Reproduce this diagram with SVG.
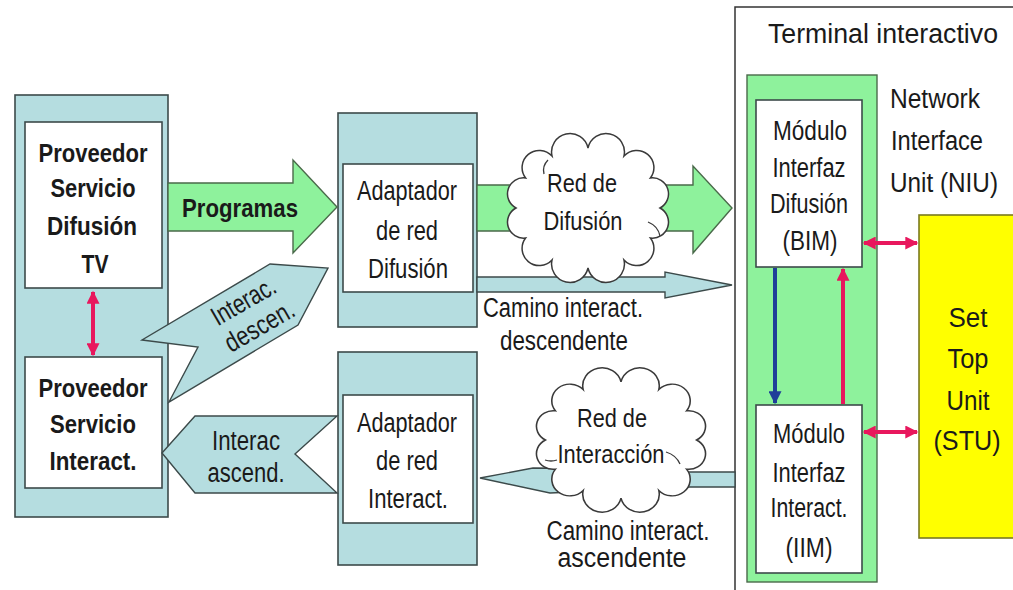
<svg xmlns="http://www.w3.org/2000/svg" xmlns:xlink="http://www.w3.org/1999/xlink" width="1013" height="590" viewBox="0 0 1013 590">
<style>
text{font-family:"Liberation Sans",Arial,sans-serif;fill:#1a1a1a;text-anchor:middle}
.b{font-weight:bold;font-size:26px}
.r{font-size:27px}
.s{font-size:25px}
.panel{fill:#b5dde0;stroke:#3c4a4a;stroke-width:1.6}
.box{fill:#ffffff;stroke:#3c4a4a;stroke-width:1.6}
.green{fill:#8ef29c;stroke:#4a6a4a;stroke-width:1.4}
.teal{fill:#b5dde0;stroke:#3c4a4a;stroke-width:1.4}
.cloud{fill:#ffffff;stroke:#3a3a3a;stroke-width:1.5}
.pk{stroke:#e8175d;stroke-width:4;fill:none}
.bl{stroke:#1f3f99;stroke-width:4;fill:none}
</style>
<defs>
<marker id="mpk" viewBox="0 0 10 10" refX="9" refY="5" markerWidth="14" markerHeight="13" markerUnits="userSpaceOnUse" orient="auto-start-reverse"><path d="M0,0 L10,5 L0,10 z" fill="#e8175d"/></marker>
<marker id="mbl" viewBox="0 0 10 10" refX="9" refY="5" markerWidth="14" markerHeight="13" markerUnits="userSpaceOnUse" orient="auto-start-reverse"><path d="M0,0 L10,5 L0,10 z" fill="#1f3f99"/></marker>
<path id="cloudshape" d="M72,0 A16,16 0 0 1 62.4,30 A17.2,17.2 0 0 1 36,52 A18.4,18.4 0 0 1 0,60 A18.4,18.4 0 0 1 -36,52 A17.2,17.2 0 0 1 -62.4,30 A16,16 0 0 1 -72,0 A16,16 0 0 1 -62.4,-30 A17.2,17.2 0 0 1 -36,-52 A18.4,18.4 0 0 1 0,-60 A18.4,18.4 0 0 1 36,-52 A17.2,17.2 0 0 1 62.4,-30 A16,16 0 0 1 72,0 Z"/>
</defs>
<rect width="1013" height="590" fill="#ffffff"/>

<!-- Terminal frame -->
<g id="terminal">
<rect x="735" y="7" width="300" height="600" fill="#ffffff" stroke="#333333" stroke-width="1.5"/>
<text class="r" font-size="26" x="883" y="43" textLength="230" lengthAdjust="spacingAndGlyphs">Terminal interactivo</text>
</g>

<!-- Left provider panel -->
<g id="left-panel">
<rect class="panel" x="15" y="95" width="153" height="422"/>
</g>
<g id="proveedor-difusion">
<rect class="box" x="25" y="122" width="137" height="166"/>
<text class="b" x="93" y="162" textLength="109" lengthAdjust="spacingAndGlyphs">Proveedor</text>
<text class="b" x="93" y="197" textLength="85" lengthAdjust="spacingAndGlyphs">Servicio</text>
<text class="b" x="92" y="235" textLength="90" lengthAdjust="spacingAndGlyphs">Difusión</text>
<text class="b" x="95" y="273" textLength="27" lengthAdjust="spacingAndGlyphs">TV</text>
</g>
<g id="proveedor-interact">
<rect class="box" x="25" y="357" width="137" height="131"/>
<text class="b" x="93" y="397" textLength="109" lengthAdjust="spacingAndGlyphs">Proveedor</text>
<text class="b" x="93" y="433" textLength="86" lengthAdjust="spacingAndGlyphs">Servicio</text>
<text class="b" x="93" y="470" textLength="87" lengthAdjust="spacingAndGlyphs">Interact.</text>
</g>

<!-- Middle adapters -->
<g id="adaptador-difusion">
<rect class="panel" x="338" y="113" width="139" height="214"/>
<rect class="box" x="343" y="164" width="130" height="128"/>
<text class="r" x="407" y="200" textLength="100" lengthAdjust="spacingAndGlyphs">Adaptador</text>
<text class="r" x="407" y="240" textLength="62" lengthAdjust="spacingAndGlyphs">de red</text>
<text class="r" x="408" y="278" textLength="80" lengthAdjust="spacingAndGlyphs">Difusión</text>
</g>
<g id="adaptador-interact">
<rect class="panel" x="338" y="352" width="139" height="213"/>
<rect class="box" x="343" y="395" width="130" height="128"/>
<text class="r" x="407" y="432" textLength="100" lengthAdjust="spacingAndGlyphs">Adaptador</text>
<text class="r" x="407" y="470" textLength="62" lengthAdjust="spacingAndGlyphs">de red</text>
<text class="r" x="408" y="508" textLength="80" lengthAdjust="spacingAndGlyphs">Interact.</text>
</g>

<!-- Connectors -->
<g id="connectors">
<polygon class="green" points="168,183 293,183 293,160 337,207 293,253 293,231 168,231"/>
<text class="b" x="240" y="217" textLength="116" lengthAdjust="spacingAndGlyphs">Programas</text>

<polygon class="teal" points="270,264 328,268 298,325 169,402 198,347 142,340"/>
<text class="r" font-size="24" transform="translate(248,309) rotate(-30)" textLength="70" lengthAdjust="spacingAndGlyphs">Interac.</text>
<text class="r" font-size="24" transform="translate(264,334) rotate(-30)" textLength="76" lengthAdjust="spacingAndGlyphs">descen.</text>

<polygon class="teal" points="162,453 195,416 337,416 295,454 337,493 195,493"/>
<text class="r" font-size="26" x="246" y="450" textLength="68" lengthAdjust="spacingAndGlyphs">Interac</text>
<text class="r" font-size="26" x="246" y="482" textLength="77" lengthAdjust="spacingAndGlyphs">ascend.</text>

<polygon class="green" points="477,185 693,185 693,166 732,208 693,253 693,231 477,231"/>
<polygon class="teal" points="477,277 665,277 665,272 732,285 665,298 665,292 477,292"/>
<text class="r" x="563" y="317" textLength="160" lengthAdjust="spacingAndGlyphs">Camino interact.</text>
<text class="r" x="564" y="350" textLength="128" lengthAdjust="spacingAndGlyphs">descendente</text>

<polygon class="teal" points="735,472 660,472 660,469 533,468 480,478 550,493 660,488 660,487 735,487"/>
<text class="r" x="628" y="540" textLength="163" lengthAdjust="spacingAndGlyphs">Camino interact.</text>
<text class="r" x="622" y="567" textLength="129" lengthAdjust="spacingAndGlyphs">ascendente</text>

<line class="pk" x1="93" y1="292" x2="93" y2="355" marker-start="url(#mpk)" marker-end="url(#mpk)" stroke-width="3"/>
</g>

<!-- Clouds -->
<g id="red-difusion">
<use href="#cloudshape" class="cloud" transform="translate(588,208)"/>
<path d="M648,222 q10,4 12,14" fill="none" stroke="#3a3a3a" stroke-width="1.3"/>
<path d="M548,160 q-6,6 -4,14" fill="none" stroke="#3a3a3a" stroke-width="1.3"/>
<text class="s" x="582" y="192" textLength="70" lengthAdjust="spacingAndGlyphs">Red de</text>
<text class="s" x="583" y="230" textLength="79" lengthAdjust="spacingAndGlyphs">Difusión</text>
</g>
<g id="red-interaccion">
<use href="#cloudshape" class="cloud" transform="translate(621,440) scale(1.05,0.97)"/>
<path d="M666,452 q10,3 14,12" fill="none" stroke="#3a3a3a" stroke-width="1.3"/>
<path d="M545,460 q6,2 12,0" fill="none" stroke="#3a3a3a" stroke-width="1.3"/>
<text class="s" x="612" y="427" textLength="70" lengthAdjust="spacingAndGlyphs">Red de</text>
<text class="s" x="611" y="463" textLength="107" lengthAdjust="spacingAndGlyphs">Interacción</text>
</g>

<!-- NIU -->
<g id="niu">
<rect class="green" x="747" y="75" width="130" height="507" stroke="#3a3a3a"/>
<text class="r" x="935" y="108" textLength="90" lengthAdjust="spacingAndGlyphs">Network</text>
<text class="r" x="937" y="150" textLength="92" lengthAdjust="spacingAndGlyphs">Interface</text>
<text class="r" x="944" y="192" textLength="108" lengthAdjust="spacingAndGlyphs">Unit (NIU)</text>
</g>
<g id="bim">
<rect class="box" x="756" y="100" width="106" height="167"/>
<text class="r" font-size="26" x="810" y="140" textLength="74" lengthAdjust="spacingAndGlyphs">Módulo</text>
<text class="r" font-size="26" x="809" y="177" textLength="73" lengthAdjust="spacingAndGlyphs">Interfaz</text>
<text class="r" font-size="26" x="809" y="213" textLength="78" lengthAdjust="spacingAndGlyphs">Difusión</text>
<text class="r" font-size="26" x="810" y="250" textLength="55" lengthAdjust="spacingAndGlyphs">(BIM)</text>
</g>
<g id="iim">
<rect class="box" x="756" y="405" width="106" height="168"/>
<text class="r" font-size="26" x="809" y="443" textLength="72" lengthAdjust="spacingAndGlyphs">Módulo</text>
<text class="r" font-size="26" x="809" y="482" textLength="73" lengthAdjust="spacingAndGlyphs">Interfaz</text>
<text class="r" font-size="26" x="809" y="517" textLength="77" lengthAdjust="spacingAndGlyphs">Interact.</text>
<text class="r" font-size="26" x="809" y="557" textLength="47" lengthAdjust="spacingAndGlyphs">(IIM)</text>
</g>
<g id="stu">
<rect x="919" y="215" width="110" height="323" fill="#ffff00" stroke="#7a7a20" stroke-width="1.6"/>
<text class="r" font-size="29" x="968" y="327" textLength="39" lengthAdjust="spacingAndGlyphs">Set</text>
<text class="r" font-size="29" x="968" y="368" textLength="41" lengthAdjust="spacingAndGlyphs">Top</text>
<text class="r" font-size="29" x="968" y="410" textLength="43" lengthAdjust="spacingAndGlyphs">Unit</text>
<text class="r" font-size="29" x="967" y="450" textLength="67" lengthAdjust="spacingAndGlyphs">(STU)</text>
</g>

<g id="terminal-connectors">
<line class="pk" x1="864" y1="243" x2="917" y2="243" marker-start="url(#mpk)" marker-end="url(#mpk)"/>
<line class="pk" x1="864" y1="432" x2="917" y2="432" marker-start="url(#mpk)" marker-end="url(#mpk)"/>
<line class="pk" x1="843" y1="404" x2="843" y2="269" marker-end="url(#mpk)"/>
<line class="bl" x1="775" y1="268" x2="775" y2="403" marker-end="url(#mbl)"/>
</g>
</svg>
